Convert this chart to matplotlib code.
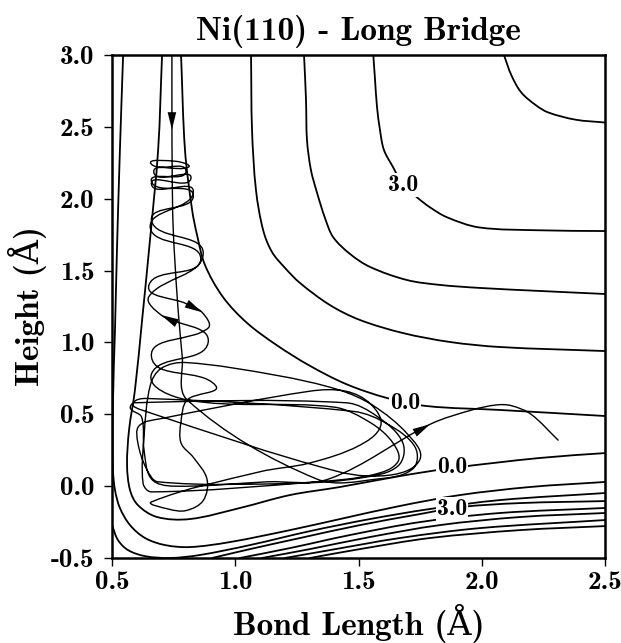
import numpy as np
import matplotlib
matplotlib.use("Agg")
import matplotlib.pyplot as plt
from matplotlib.path import Path
from matplotlib.patches import PathPatch
from matplotlib.ticker import FormatStrFormatter, MultipleLocator

plt.rcParams['font.family'] = ['cmb10', 'DejaVu Serif']
plt.rcParams['axes.unicode_minus'] = False

# --- contour lines (bond length, height) ---
c4_up_x = [2.09, 2.12, 2.16, 2.22, 2.27, 2.38, 2.50]
c4_up_y = [3.00, 2.86, 2.74, 2.65, 2.60, 2.55, 2.53]

c3_up_x = [1.56, 1.567, 1.575, 1.587, 1.603, 1.64, 1.68, 1.737, 1.79, 1.86, 1.99, 2.24, 2.50]
c3_up_y = [3.00, 2.83, 2.64, 2.48, 2.34, 2.22, 2.10, 2.01, 1.94, 1.87, 1.80, 1.78, 1.775]

c2_up_x = [1.279, 1.287, 1.291, 1.307, 1.332, 1.364, 1.397, 1.466, 1.547, 1.697, 1.831, 1.993, 2.236, 2.50]
c2_up_y = [3.00, 2.687, 2.408, 2.20, 2.04, 1.866, 1.733, 1.615, 1.525, 1.434, 1.40, 1.379, 1.358, 1.337]

c1_up_x = [1.064, 1.068, 1.084, 1.113, 1.149, 1.202, 1.263, 1.384, 1.506, 1.681, 1.871, 2.074, 2.50]
c1_up_y = [3.00, 2.478, 2.061, 1.782, 1.629, 1.518, 1.413, 1.26, 1.156, 1.065, 1.003, 0.968, 0.94]

c0_up_x = [0.78, 0.796, 0.825, 0.845, 0.877, 0.95, 1.048, 1.169, 1.30, 1.45, 1.616, 1.778, 2.074, 2.50]
c0_up_y = [3.00, 2.339, 1.921, 1.747, 1.539, 1.316, 1.135, 0.98, 0.84, 0.71, 0.613, 0.557, 0.53, 0.488]

c0_lo_x = [0.703, 0.687, 0.654, 0.622, 0.593, 0.569, 0.561, 0.573, 0.605, 0.683, 0.816, 1.019, 1.222, 1.425, 1.668, 1.879, 2.236, 2.50]
c0_lo_y = [3.00, 2.339, 1.713, 1.156, 0.669, 0.39, 0.147, -0.027, -0.132, -0.215, -0.229, -0.152, -0.062, -0.006, 0.07, 0.126, 0.196, 0.23]

c1_lo_x = [0.545, 0.532, 0.52, 0.512, 0.504, 0.504, 0.512, 0.532, 0.573, 0.634, 0.715, 0.816, 0.979, 1.222, 1.425, 1.668, 1.912, 2.196, 2.50]
c1_lo_y = [3.00, 2.339, 1.643, 1.086, 0.599, 0.112, -0.027, -0.152, -0.271, -0.361, -0.41, -0.424, -0.389, -0.306, -0.229, -0.138, -0.062, -0.006, 0.029]

c2_lo_x = [0.50, 0.524, 0.565, 0.634, 0.735, 0.857, 1.06, 1.303, 1.547, 1.79, 2.074, 2.50]
c2_lo_y = [-0.271, -0.375, -0.445, -0.487, -0.50, -0.479, -0.41, -0.313, -0.229, -0.159, -0.097, -0.048]

c3_lo_x = [0.906, 1.06, 1.263, 1.506, 1.75, 1.912, 2.155, 2.50]
c3_lo_y = [-0.50, -0.438, -0.361, -0.271, -0.194, -0.146, -0.118, -0.104]

c4_lo_x = [1.019, 1.222, 1.466, 1.75, 2.074, 2.50]
c4_lo_y = [-0.50, -0.431, -0.34, -0.25, -0.187, -0.152]

c5_lo_x = [1.108, 1.303, 1.547, 1.831, 2.155, 2.50]
c5_lo_y = [-0.50, -0.438, -0.354, -0.271, -0.215, -0.187]

c6_lo_x = [1.202, 1.384, 1.668, 1.993, 2.50]
c6_lo_y = [-0.50, -0.445, -0.361, -0.292, -0.236]

c7_lo_x = [1.303, 1.506, 1.79, 2.155, 2.50]
c7_lo_y = [-0.50, -0.438, -0.361, -0.306, -0.278]

contours = [(c4_up_x, c4_up_y), (c3_up_x, c3_up_y), (c2_up_x, c2_up_y), (c1_up_x, c1_up_y),
            (c0_up_x, c0_up_y), (c0_lo_x, c0_lo_y), (c1_lo_x, c1_lo_y), (c2_lo_x, c2_lo_y),
            (c3_lo_x, c3_lo_y), (c4_lo_x, c4_lo_y), (c5_lo_x, c5_lo_y), (c6_lo_x, c6_lo_y),
            (c7_lo_x, c7_lo_y)]

# contour labels
label_text = ['3.0', '0.0', '0.0', '3.0']
label_x = [1.68, 1.689, 1.879, 1.879]
label_y = [2.095, 0.578, 0.133, -0.160]

# --- trajectory ---
# descent
tr_x = [0.743, 0.743, 0.744, 0.748, 0.765, 0.785, 0.805]
tr_y = [3.00, 2.60, 2.20, 1.80, 1.30, 0.90, 0.60]
# first bounces in the well
tr_x += [1.33, 1.58, 1.72, 1.73, 1.62, 1.48, 0.64, 0.585, 0.62, 1.42, 1.64, 1.75, 1.70,
         1.56, 1.42, 1.17, 0.80, 0.70, 0.655, 0.63, 0.626, 0.66, 1.33, 1.56, 1.66, 1.64,
         1.55, 1.40, 0.805]
tr_y += [0.05, 0.05, 0.12, 0.27, 0.43, 0.52, 0.61, 0.575, 0.53, 0.10, 0.08, 0.19, 0.36,
         0.56, 0.67, 0.77, 0.86, 0.82, 0.70, 0.35, 0.02, -0.04, 0.03, 0.08, 0.17, 0.30,
         0.44, 0.55, 0.60]
# climb away from the surface
tr_x += [0.66, 0.89, 0.70, 0.65, 0.87, 0.66, 0.83, 0.66, 0.80, 0.66, 0.76]
tr_y += [0.78, 1.00, 1.19, 1.32, 1.62, 1.85, 2.02, 2.12, 2.19, 2.24, 2.26]
# turning point
tr_x += [0.81, 0.67, 0.82, 0.66, 0.83]
tr_y += [2.22, 2.18, 2.14, 2.10, 2.05]
# fall back
tr_x += [0.655, 0.86, 0.65, 0.80, 0.865, 0.89, 0.66, 0.92, 0.805]
tr_y += [1.80, 1.58, 1.40, 1.27, 1.21, 1.10, 0.90, 0.70, 0.60]
# last bounces
tr_x += [0.78, 0.78, 0.83, 0.885, 0.87, 0.80, 0.73, 0.66, 1.10, 1.30, 1.50, 1.59, 1.55,
         1.45, 1.30, 0.70, 0.61, 0.605, 0.64, 0.687, 1.25, 1.52, 1.66, 1.68, 1.58, 1.45,
         0.59, 0.575, 0.62, 0.63, 0.66, 0.75, 1.13]
tr_y += [0.45, 0.30, 0.20, 0.05, -0.10, -0.17, -0.16, -0.11, 0.10, 0.16, 0.28, 0.42, 0.57,
         0.66, 0.66, 0.47, 0.42, 0.30, 0.12, 0.03, 0.02, 0.06, 0.14, 0.30, 0.48, 0.58,
         0.58, 0.54, 0.48, 0.25, 0.05, 0.00, 0.03]
# exit along the dissociation channel
tr_x += [1.38, 1.79, 1.96, 2.06, 2.12, 2.20, 2.31]
tr_y += [0.05, 0.43, 0.53, 0.565, 0.56, 0.50, 0.32]

# arrow heads on the trajectory: (tail, tip)
arrows = [((0.743, 2.62), (0.743, 2.48)),
          ((0.745, 1.15), (0.70, 1.19)),
          ((0.815, 1.258), (0.865, 1.21)),
          ((1.73, 0.373), (1.79, 0.43))]


def smooth_path(xs, ys, sx, sy):
    # cubic pieces through every read point, tangents scaled to the chord
    pts = np.column_stack([np.asarray(xs) * sx, np.asarray(ys) * sy])
    n = len(pts)
    verts = [pts[0]]
    codes = [Path.MOVETO]
    for i in range(n - 1):
        p0 = pts[i - 1] if i > 0 else pts[i]
        p1 = pts[i]
        p2 = pts[i + 1]
        p3 = pts[i + 2] if i + 2 < n else pts[i + 1]
        seg = np.hypot(*(p2 - p1))
        t1 = p2 - p0
        t1 = t1 / max(np.hypot(*t1), 1e-9)
        t2 = p3 - p1
        t2 = t2 / max(np.hypot(*t2), 1e-9)
        verts += [p1 + t1 * seg / 3, p2 - t2 * seg / 3, p2]
        codes += [Path.CURVE4] * 3
    verts = np.array(verts) / [sx, sy]
    return Path(verts, codes)


fig = plt.figure(figsize=(6.21, 6.43), dpi=100)
ax = fig.add_axes([0.1804, 0.1322, 0.7938, 0.7823])
ax.set_xlim(0.5, 2.5)
ax.set_ylim(-0.5, 3.0)
sx = 621 * 0.7938 / 2.0
sy = 643 * 0.7823 / 3.5

for cx, cy in contours:
    ax.add_patch(PathPatch(smooth_path(cx, cy, sx, sy), fill=False, edgecolor='black', lw=1.3,
                           capstyle='round', joinstyle='round'))

ax.add_patch(PathPatch(smooth_path(tr_x, tr_y, sx, sy), fill=False, edgecolor='black', lw=1.0,
                       capstyle='round', joinstyle='round', zorder=3))

for (tail, tip) in arrows:
    ax.annotate('', xy=tip, xytext=tail,
                arrowprops=dict(arrowstyle='-|>,head_length=0.9,head_width=0.22',
                                mutation_scale=14, color='black', lw=0, shrinkA=0, shrinkB=0),
                zorder=4)

for t, lx, ly in zip(label_text, label_x, label_y):
    ax.text(lx, ly, t, ha='center', va='center', fontsize=17, zorder=5,
            bbox=dict(facecolor='white', edgecolor='none', pad=0.5))

ax.xaxis.set_major_locator(MultipleLocator(0.5))
ax.yaxis.set_major_locator(MultipleLocator(0.5))
ax.xaxis.set_major_formatter(FormatStrFormatter('%.1f'))
ax.yaxis.set_major_formatter(FormatStrFormatter('%.1f'))
ax.tick_params(direction='out', length=5.5, width=1.0, labelsize=19.5)
ax.tick_params(axis='x', pad=4)
ax.tick_params(axis='y', pad=7)
for s in ax.spines.values():
    s.set_linewidth(1.8)

ax.set_title('Ni(110) - Long Bridge', fontsize=24, pad=11)
ax.set_xlabel('Bond Length (Å)', fontsize=24, labelpad=7)
ax.set_ylabel('Height (Å)', fontsize=24, labelpad=3)

fig.savefig('out.png', dpi=100)
